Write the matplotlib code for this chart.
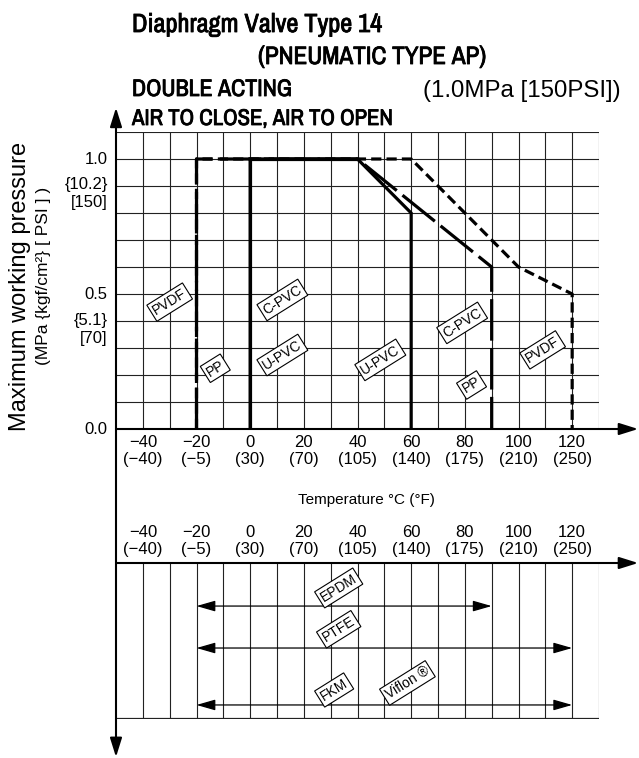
import numpy as np
import matplotlib.pyplot as plt
from matplotlib import font_manager
import matplotlib.patheffects as pe

W, H = 639, 758

# temperature axis (deg C) and the matching deg F labels
temp_ticks = [-40, -20, 0, 20, 40, 60, 80, 100, 120]
temp_f = ['−40', '−5', '30', '70', '105', '140', '175', '210', '250']
grid_x = np.arange(-40, 131, 10)
grid_y = np.arange(0.1, 1.11, 0.1)

# pressure limits (MPa) per body material
pvdf_t = [-20, -20, 60, 100, 120, 120]
pvdf_p = [0, 1.0, 1.0, 0.6, 0.5, 0]
pp_t = [-20, -20, 40, 90, 90]
pp_p = [0, 1.0, 1.0, 0.6, 0]
upvc_t = [0, 0, 40, 60, 60]
upvc_p = [0, 1.0, 1.0, 0.8, 0]
cpvc_t = [0, 0, 40]
cpvc_p = [0, 1.0, 1.0]

# material tags in the upper chart
body_tags = ['PVDF', 'PP', 'C-PVC', 'U-PVC', 'U-PVC', 'C-PVC', 'PP', 'PVDF']
body_tag_t = [-30, -13, 12, 12, 48.5, 79, 82.5, 109]
body_tag_p = [0.47, 0.225, 0.478, 0.274, 0.256, 0.393, 0.163, 0.293]

# diaphragm temperature ranges (lower chart)
dia_lo = [-20, -20, -20]
dia_hi = [90, 120, 120]
dia_row = [0.724, 0.455, 0.09]
dia_tags = ['EPDM', 'PTFE', 'FKM', 'Viflon ®']
dia_tag_t = [33, 33, 31.3, 58.6]
dia_tag_y = [0.84, 0.575, 0.186, 0.231]

names = {f.name for f in font_manager.fontManager.ttflist}
narrow = 'Liberation Sans'
for n in sorted(names):
    if 'Narrow' in n or 'Condensed' in n:
        narrow = n
        break
plt.rcParams['font.family'] = ['Liberation Sans', 'DejaVu Sans']

fig = plt.figure(figsize=(W / 100, H / 100), dpi=100)

def box(l, t, r, b):
    return [l / W, 1 - b / H, (r - l) / W, (b - t) / H]

def ftext(x, y, s, **kw):
    return fig.text(x / W, 1 - y / H, s, **kw)

ax = fig.add_axes(box(116, 132, 599, 429))
ax2 = fig.add_axes(box(116, 563, 599, 719))

for a in (ax, ax2):
    for sp in a.spines.values():
        sp.set_visible(False)
    a.set_xlim(-50, 130)
    a.set_yticks([])
    a.tick_params(axis='x', length=0, labelsize=12, pad=4)
    a.set_facecolor('none')

ax.set_ylim(0, 1.1)
ax2.set_ylim(0, 1)

tick_labels = [f"{str(c).replace('-', '−')}\n({f})" for c, f in zip(temp_ticks, temp_f)]
ax.set_xticks(temp_ticks, labels=tick_labels)
ax2.xaxis.tick_top()
ax2.set_xticks(temp_ticks, labels=tick_labels)

# grids
ax.vlines(grid_x, 0, 1.1, color='#222222', lw=0.8, zorder=1)
ax.hlines(grid_y, -50, 130, color='#222222', lw=0.8, zorder=1)
ax2.vlines(grid_x, 0, 1, color='#222222', lw=0.8, zorder=1)
ax2.hlines(0, -50, 130, color='#222222', lw=1.6, zorder=1)

def arrow(a, x0, y0, x1, y1, lw=1.5, hl=11.5, hw=3.6, style='-|>'):
    a.annotate('', xy=(x1, y1), xytext=(x0, y0), annotation_clip=False,
               arrowprops=dict(arrowstyle=f'{style},head_length={hl},head_width={hw}',
                               mutation_scale=1, lw=lw, color='black',
                               shrinkA=0, shrinkB=0))

# axes with arrows
arrow(ax, -50, 0, 144.6, 0)
arrow(ax, -50, 0, -50, 1.19)
arrow(ax2, -50, 1, 144.6, 1)
arrow(ax2, -50, 1.86, -50, -0.244)

# pressure curves
lw = 2.3
ax.plot(pp_t, pp_p, color='black', lw=lw, dashes=(13, 2.3), zorder=3)
ax.plot(pvdf_t, pvdf_p, color='black', lw=lw, dashes=(3.2, 1.6), zorder=3)
ax.plot(upvc_t, upvc_p, color='black', lw=lw, zorder=3, solid_joinstyle='miter')
ax.plot(cpvc_t, cpvc_p, color='black', lw=lw, zorder=3, solid_joinstyle='miter')

tag_box = dict(boxstyle='square,pad=0.18', fc='white', ec='black', lw=0.8)
for s, t, p in zip(body_tags, body_tag_t, body_tag_p):
    ax.text(t, p, s, rotation=32, ha='center', va='center', fontsize=10,
            bbox=tag_box, zorder=5, rotation_mode='anchor')

# y tick labels
ylab = [(1.0, '1.0'), (0.907, '{10.2}'), (0.84, '[150]'),
        (0.497, '0.5'), (0.403, '{5.1}'), (0.336, '[70]'), (0.0, '0.0')]
for yv, s in ylab:
    ax.text(-0.017, yv, s, transform=ax.get_yaxis_transform(), ha='right',
            va='center', fontsize=12)

# diaphragm ranges
for lo, hi, r in zip(dia_lo, dia_hi, dia_row):
    arrow(ax2, lo, r, hi, r, lw=0.9, hl=11.5, hw=3.3, style='<|-|>')
for s, t, y in zip(dia_tags, dia_tag_t, dia_tag_y):
    ax2.text(t, y, s, rotation=32, ha='center', va='center', fontsize=10,
             bbox=tag_box, zorder=5, rotation_mode='anchor')

# axis titles
ftext(20, 286, 'Maximum working pressure', rotation=90, ha='center', va='center', fontsize=17)
ftext(44, 276, '(MPa {kgf/cm²} [ PSI ] )', rotation=90, ha='center', va='center', fontsize=12.5)
ftext(366, 500, 'Temperature °C (°F)', ha='center', va='center', fontsize=11)

# headings, sized to the width they take in the original
hb = dict(family=[narrow, 'DejaVu Sans'], fontweight='bold', fontsize=18, va='baseline',
          path_effects=[pe.withStroke(linewidth=0.6, foreground='black')])
heads = [ftext(132, 32, 'Diaphragm Valve Type 14', **hb),
         ftext(258, 64, '(PNEUMATIC TYPE AP)', **hb),
         ftext(132, 96, 'DOUBLE ACTING', **hb),
         ftext(132, 125, 'AIR TO CLOSE, AIR TO OPEN', **hb),
         ftext(423, 97, '(1.0MPa [150PSI])', fontsize=13, va='baseline')]
widths = [250, 228, 160, 261, 197]
r = fig.canvas.get_renderer()
for t, w in zip(heads, widths):
    t.set_fontsize(t.get_fontsize() * w / t.get_window_extent(r).width)

fig.savefig('out.png', dpi=100)
